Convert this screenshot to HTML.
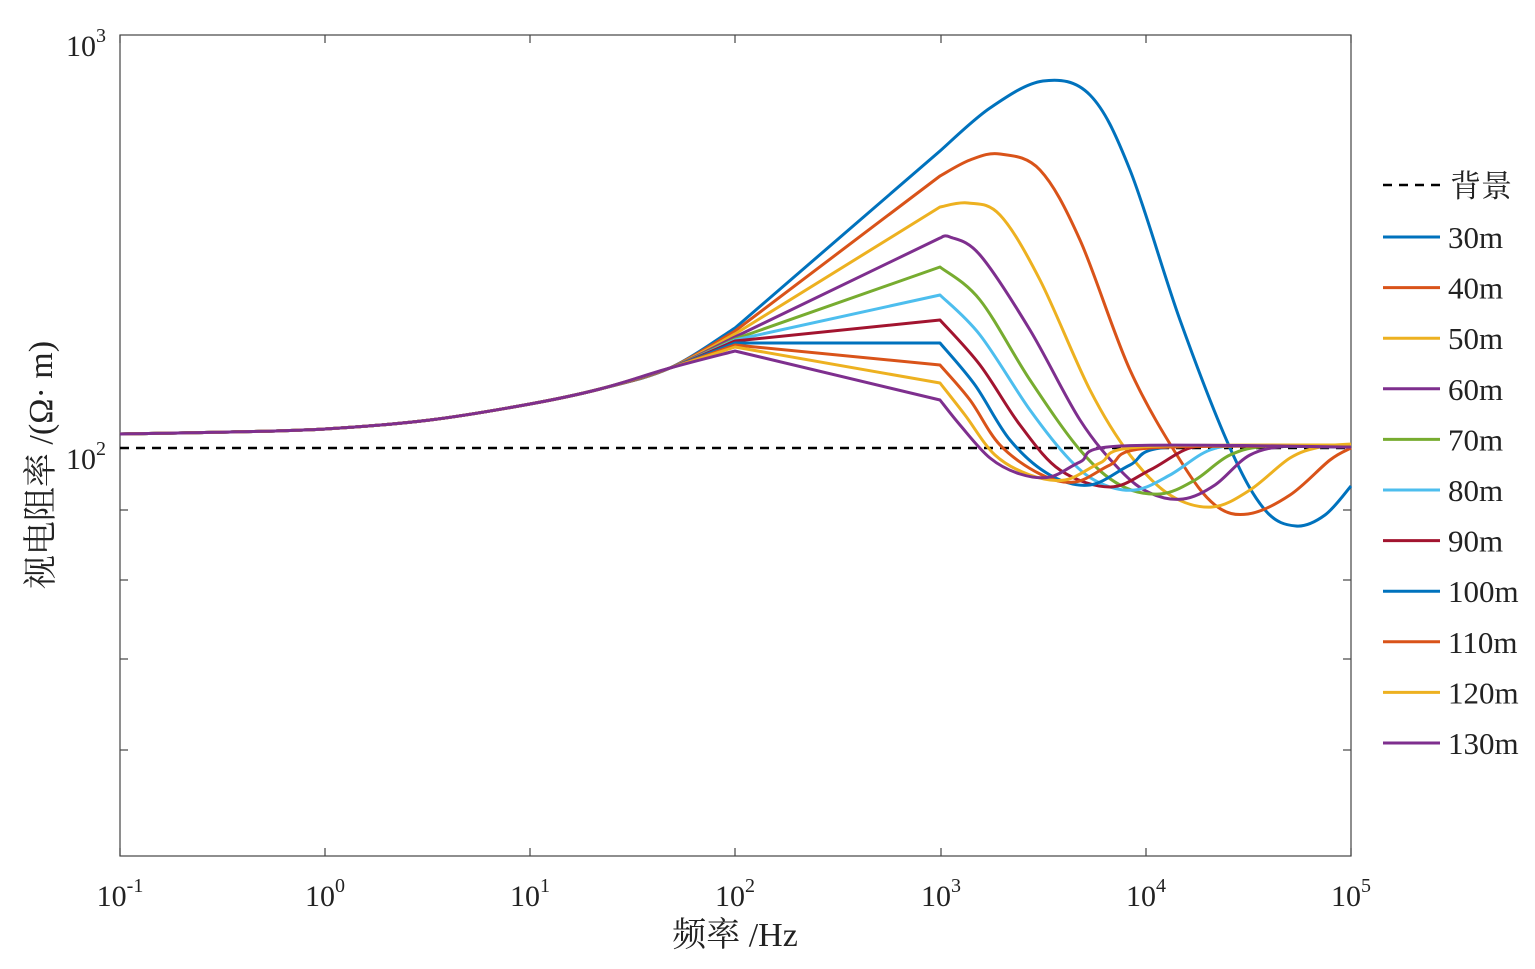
<!DOCTYPE html><html><head><meta charset="utf-8"><style>body{margin:0;background:#fff}svg{display:block}text{font-family:"Liberation Serif","Noto Serif CJK SC",serif;fill:#222}</style></head><body>
<svg id="s" width="1535" height="969" xmlns="http://www.w3.org/2000/svg">
<rect x="120" y="35" width="1231" height="821" fill="none" stroke="#444" stroke-width="1.2"/>
<g stroke="#444" stroke-width="1.2" id="ticks"></g>
<line x1="120" y1="448" x2="1351" y2="448" stroke="#000" stroke-width="2.5" stroke-dasharray="9,7"/>
<g id="curves" fill="none" stroke-width="3" stroke-linejoin="round"></g>
<g font-size="30" text-anchor="middle">
<text x="120" y="906">10<tspan font-size="20" dy="-14">-1</tspan></text>
<text x="325" y="906">10<tspan font-size="20" dy="-14">0</tspan></text>
<text x="530" y="906">10<tspan font-size="20" dy="-14">1</tspan></text>
<text x="735" y="906">10<tspan font-size="20" dy="-14">2</tspan></text>
<text x="941" y="906">10<tspan font-size="20" dy="-14">3</tspan></text>
<text x="1146" y="906">10<tspan font-size="20" dy="-14">4</tspan></text>
<text x="1351" y="906">10<tspan font-size="20" dy="-14">5</tspan></text>
</g>
<g font-size="30" text-anchor="end">
<text x="106" y="56">10<tspan font-size="20" dy="-14">3</tspan></text>
<text x="106" y="469">10<tspan font-size="20" dy="-14">2</tspan></text>
</g>
<text x="735" y="946" font-size="34" text-anchor="middle">频率 /Hz</text>
<text transform="translate(52,465) rotate(-90)" font-size="34" text-anchor="middle">视电阻率 /(Ω· m)</text>
<g id="leg" font-size="31"></g>
</svg>
<script>
var C=["#0072BD","#D95319","#EDB120","#7E2F8E","#77AC30","#4DBEEE","#A2142F","#0072BD","#D95319","#EDB120","#7E2F8E"];
var N=["30m","40m","50m","60m","70m","80m","90m","100m","110m","120m","130m"];
var T=document.getElementById("ticks"),h="";
[510,580,659,750].forEach(function(y){h+='<line x1="120" y1="'+y+'" x2="128" y2="'+y+'"/><line x1="1343" y1="'+y+'" x2="1351" y2="'+y+'"/>';});
[120,325,530,735,941,1146,1351].forEach(function(x){h+='<line x1="'+x+'" y1="856" x2="'+x+'" y2="848"/><line x1="'+x+'" y1="35" x2="'+x+'" y2="43"/>';});
h+='<line x1="120" y1="448" x2="128" y2="448"/><line x1="1343" y1="448" x2="1351" y2="448"/>';
T.innerHTML=h;
function cr(p){var d="";for(var i=0;i<p.length-1;i++){var p0=p[i-1]||p[i],p1=p[i],p2=p[i+1],p3=p[i+2]||p2;
d+=" C"+(p1[0]+(p2[0]-p0[0])/6)+","+(p1[1]+(p2[1]-p0[1])/6)+" "+(p2[0]-(p3[0]-p1[0])/6)+","+(p2[1]-(p3[1]-p1[1])/6)+" "+p2[0]+","+p2[1];}return d;}
var D=[
[[735,328],[940,151],[990,108],[1043,81],[1090,95],[1130,170],[1180,320],[1230,448],[1265,510],[1296,526],[1325,515],[1351,486]],
[[735,331],[940,176],[970,160],[1000,154],[1040,170],[1080,240],[1130,370],[1180,460],[1215,505],[1248,514],[1290,495],[1330,460],[1351,448]],
[[735,334],[940,207],[968,203],[1000,215],[1040,280],[1090,390],[1130,455],[1170,495],[1212,507],[1250,490],[1290,458],[1320,447],[1351,444]],
[[735,337],[940,238],[950,237],[980,255],[1030,330],[1080,420],[1120,470],[1150,493],[1183,499],[1215,485],[1250,455],[1290,446],[1351,447]],
[[735,339],[940,267],[980,300],[1030,380],[1080,450],[1120,485],[1160,494],[1195,480],[1230,455],[1270,446],[1351,447]],
[[735,340],[940,295],[980,335],[1030,410],[1070,460],[1100,483],[1135,490],[1170,475],[1210,450],[1250,446],[1351,447]],
[[735,341],[940,320],[980,365],[1020,425],[1060,470],[1110,487],[1150,470],[1190,448],[1230,446],[1351,447]],
[[735,343],[940,343],[975,385],[1010,440],[1050,475],[1090,485],[1130,465],[1170,447],[1351,447]],
[[735,345],[940,365],[970,400],[1000,445],[1040,474],[1075,482],[1110,465],[1150,448],[1351,446]],
[[735,347],[940,383],[965,415],[995,455],[1030,475],[1065,480],[1100,463],[1140,447],[1351,445]],
[[735,351],[940,400],[960,425],[990,458],[1020,474],[1050,477],[1080,462],[1120,446],[1351,447]]];
var pre=[[120,434],[230,432],[325,429],[430,420],[530,404],[600,389],[670,368]];
var g="";
for(var k=0;k<11;k++){var p=D[k];var a=pre.concat([p[0]]);
var d="M120,434"+cr(a)+" L940,"+p[1][1]+cr(p.slice(1));
g+='<path d="'+d+'" stroke="'+C[k]+'"/>';}
document.getElementById("curves").innerHTML=g;
var L='<line x1="1383" y1="185" x2="1440" y2="185" stroke="#000" stroke-width="2.5" stroke-dasharray="9,7"/><text x="1450" y="197">背景</text>';
for(var k=0;k<11;k++){var y=237+k*50.6;L+='<line x1="1383" y1="'+y+'" x2="1440" y2="'+y+'" stroke="'+C[k]+'" stroke-width="3"/><text x="1448" y="'+(y+11)+'">'+N[k]+'</text>';}
document.getElementById("leg").innerHTML=L;
</script>
</body></html>
